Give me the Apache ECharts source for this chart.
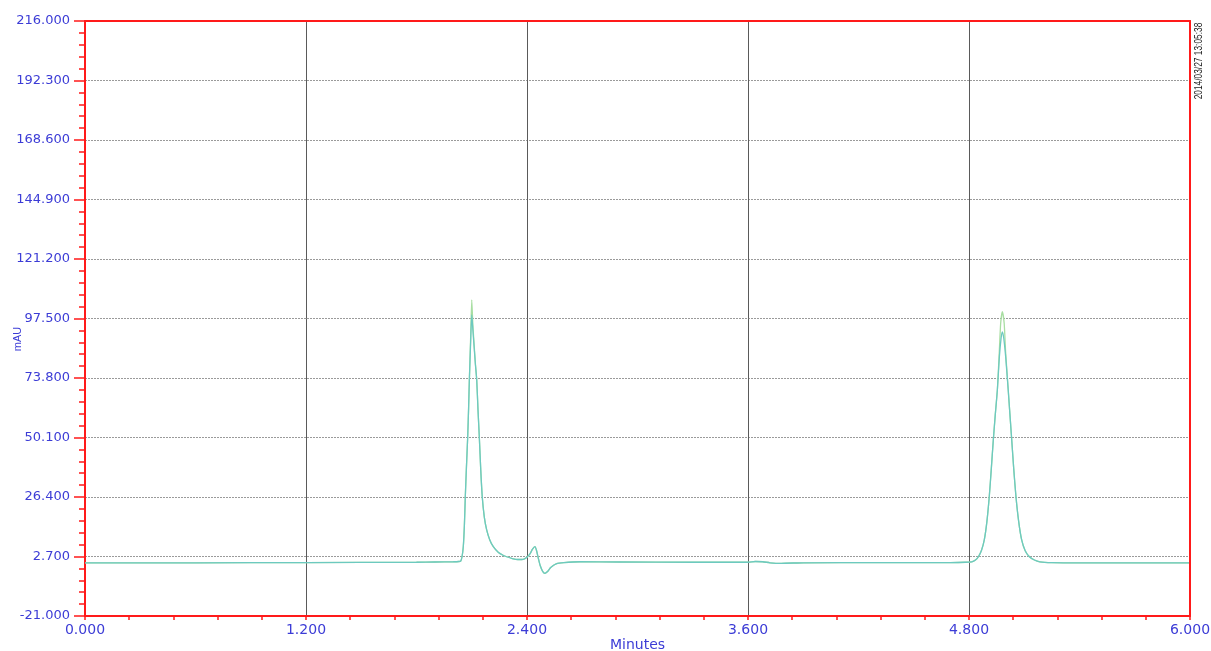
<!DOCTYPE html>
<html>
<head>
<meta charset="utf-8">
<title>Chromatogram</title>
<script src="https://cdn.jsdelivr.net/npm/echarts@6/dist/echarts.min.js"></script>
<style>
  html, body { margin: 0; padding: 0; background: #ffffff; overflow: hidden; }
  #chart { width: 1211px; height: 651px; }
</style>
</head>
<body>
<div id="chart"></div>
<script>
// Retention time axis (minutes) and absorbance axis (mAU)
const xMin = 0, xMax = 6, xStep = 1.2;
const yMin = -21, yMax = 216, yStep = 23.7;
const runStamp = '2014/03/27 13:05:38';

// Channel A (teal): [minutes, mAU]
const channelA = [
  [0.000, 0.2], [0.600, 0.2], [1.200, 0.3], [1.800, 0.4], [1.900, 0.5],
  [2.000, 0.6], [2.030, 0.7], [2.040, 0.9], [2.047, 2.5], [2.054, 6.6],
  [2.060, 15.0], [2.065, 26.5], [2.071, 38.0], [2.078, 50.4], [2.083, 62.0],
  [2.087, 73.0], [2.094, 88.0], [2.100, 98.9], [2.106, 93.0], [2.113, 86.0],
  [2.120, 79.0], [2.127, 73.0], [2.134, 61.0], [2.141, 50.4], [2.149, 37.0],
  [2.157, 26.5], [2.168, 18.5], [2.181, 13.3], [2.198, 9.3], [2.217, 6.6],
  [2.245, 4.3], [2.270, 3.2], [2.290, 2.6], [2.320, 1.9], [2.350, 1.5],
  [2.380, 1.6], [2.398, 2.3], [2.415, 3.6], [2.430, 5.6], [2.443, 6.6],
  [2.452, 5.0], [2.462, 1.8], [2.472, -1.0], [2.485, -3.2], [2.497, -4.0],
  [2.510, -3.4], [2.530, -1.6], [2.561, -0.1], [2.600, 0.3], [2.688, 0.6],
  [2.900, 0.5], [3.300, 0.4], [3.600, 0.4], [3.640, 0.7], [3.680, 0.6],
  [3.720, 0.2], [3.780, 0.0], [3.900, 0.2], [4.300, 0.3], [4.700, 0.3],
  [4.780, 0.4], [4.815, 0.6], [4.835, 1.3], [4.851, 2.6], [4.868, 5.2],
  [4.883, 9.3], [4.897, 16.5], [4.910, 26.5], [4.921, 37.5], [4.932, 49.1],
  [4.943, 59.5], [4.954, 69.0], [4.965, 82.3], [4.974, 89.5], [4.981, 92.2],
  [4.989, 89.5], [4.999, 82.3], [5.013, 69.0], [5.022, 59.5], [5.032, 49.1],
  [5.043, 37.5], [5.055, 26.5], [5.070, 16.5], [5.086, 9.3], [5.105, 5.0],
  [5.128, 2.6], [5.155, 1.3], [5.185, 0.6], [5.250, 0.3], [5.400, 0.2],
  [6.000, 0.2]
];

// Channel B (green): [minutes, mAU]
const channelB = [
  [0.000, 0.2], [0.600, 0.2], [1.200, 0.3], [1.800, 0.4], [1.900, 0.5],
  [2.000, 0.6], [2.030, 0.7], [2.040, 0.9], [2.047, 2.5], [2.054, 6.6],
  [2.060, 15.0], [2.065, 26.5], [2.071, 38.0], [2.078, 50.4], [2.083, 62.0],
  [2.087, 73.0], [2.094, 90.0], [2.100, 104.9], [2.106, 95.0], [2.113, 87.0],
  [2.120, 79.5], [2.127, 73.0], [2.134, 61.0], [2.141, 50.4], [2.149, 37.0],
  [2.157, 26.5], [2.168, 18.5], [2.181, 13.3], [2.198, 9.3], [2.217, 6.6],
  [2.245, 4.3], [2.270, 3.2], [2.290, 2.6], [2.320, 1.9], [2.350, 1.5],
  [2.380, 1.6], [2.398, 2.3], [2.415, 3.6], [2.430, 5.6], [2.443, 6.6],
  [2.452, 5.0], [2.462, 1.8], [2.472, -1.0], [2.485, -3.2], [2.497, -4.0],
  [2.510, -3.4], [2.530, -1.6], [2.561, -0.1], [2.600, 0.3], [2.688, 0.6],
  [2.900, 0.5], [3.300, 0.4], [3.600, 0.4], [3.640, 0.7], [3.680, 0.6],
  [3.720, 0.2], [3.780, 0.0], [3.900, 0.2], [4.300, 0.3], [4.700, 0.3],
  [4.780, 0.4], [4.815, 0.6], [4.835, 1.3], [4.851, 2.6], [4.868, 5.2],
  [4.883, 9.3], [4.897, 16.5], [4.910, 26.5], [4.921, 37.5], [4.932, 49.1],
  [4.943, 59.5], [4.954, 69.0], [4.964, 83.5], [4.972, 95.6], [4.981, 100.2],
  [4.991, 95.6], [4.999, 84.0], [5.013, 69.0], [5.022, 59.5], [5.032, 49.1],
  [5.043, 37.5], [5.055, 26.5], [5.070, 16.5], [5.086, 9.3], [5.105, 5.0],
  [5.128, 2.6], [5.155, 1.3], [5.185, 0.6], [5.250, 0.3], [5.400, 0.2],
  [6.000, 0.2]
];

const RED = '#ff1a1a';
const BLUE = '#3c3cd6';
const labelFont = 'DejaVu Sans, Liberation Sans, sans-serif';

const chart = echarts.init(document.getElementById('chart'), null, { renderer: 'canvas' });

chart.setOption({
  backgroundColor: '#ffffff',
  animation: false,
  grid: { left: 85, right: 21, top: 21, bottom: 35, containLabel: false, outerBoundsMode: 'none' },
  xAxis: [
    {
      type: 'value',
      min: xMin, max: xMax, interval: xStep,
      name: 'Minutes',
      nameLocation: 'middle',
      nameGap: 22,
      nameMoveOverlap: false,
      nameTextStyle: { color: BLUE, fontSize: 14, fontFamily: labelFont },
      axisLine: { show: true, onZero: false, lineStyle: { color: RED, width: 2 } },
      axisTick: { show: true, length: 4, lineStyle: { color: RED, width: 1.5 } },
      minorTick: { show: true, splitNumber: 5, length: 4, lineStyle: { color: RED, width: 1.5 } },
      axisLabel: {
        color: BLUE, fontSize: 14, fontFamily: labelFont, margin: 7,
        showMinLabel: true, showMaxLabel: true,
        formatter: v => v.toFixed(3)
      },
      splitLine: { show: true, lineStyle: { color: '#5a5a5a', width: 1 } }
    },
    {
      // top frame edge
      type: 'value', position: 'top', min: xMin, max: xMax, z: 5,
      axisLine: { show: true, onZero: false, lineStyle: { color: RED, width: 2 } },
      axisTick: { show: false }, axisLabel: { show: false }, splitLine: { show: false }
    }
  ],
  yAxis: [
    {
      type: 'value',
      min: yMin, max: yMax, interval: yStep,
      axisLine: { show: true, onZero: false, lineStyle: { color: RED, width: 2 } },
      axisTick: { show: true, length: 11, lineStyle: { color: RED, width: 1.5 } },
      minorTick: { show: true, splitNumber: 5, length: 6, lineStyle: { color: RED, width: 1.5 } },
      axisLabel: {
        color: BLUE, fontSize: 13, fontFamily: labelFont, margin: 15,
        showMinLabel: true, showMaxLabel: true, hideOverlap: false,
        formatter: v => v.toFixed(3)
      },
      splitLine: { show: true, lineStyle: { color: '#9a9a9a', width: 1, type: [2, 1] } }
    },
    {
      // right frame edge
      type: 'value', position: 'right', min: yMin, max: yMax, z: 5,
      axisLine: { show: true, onZero: false, lineStyle: { color: RED, width: 2 } },
      axisTick: { show: false }, axisLabel: { show: false }, splitLine: { show: false }
    }
  ],
  series: [
    {
      name: 'Channel B', type: 'line', data: channelB,
      showSymbol: false, symbol: 'none', smooth: 0.2,
      lineStyle: { color: '#a8dea2', width: 1.3 }, z: 2
    },
    {
      name: 'Channel A', type: 'line', data: channelA,
      showSymbol: false, symbol: 'none', smooth: 0.2,
      lineStyle: { color: '#6cc9c0', width: 1.3 }, z: 3
    }
  ],
  graphic: [
    {
      type: 'text', x: 18, y: 339, rotation: Math.PI / 2,
      style: {
        text: 'mAU', fill: BLUE, fontSize: 11, fontFamily: 'Liberation Sans, sans-serif',
        align: 'center', verticalAlign: 'middle'
      }
    },
    {
      // run timestamp, condensed along its reading direction
      type: 'text', x: 1199, y: 61, rotation: Math.PI / 2, scaleX: 0.76, scaleY: 1,
      style: {
        text: runStamp, fill: '#222222', fontSize: 11,
        fontFamily: 'Liberation Sans, sans-serif',
        align: 'center', verticalAlign: 'middle'
      }
    }
  ]
});
</script>
</body>
</html>
